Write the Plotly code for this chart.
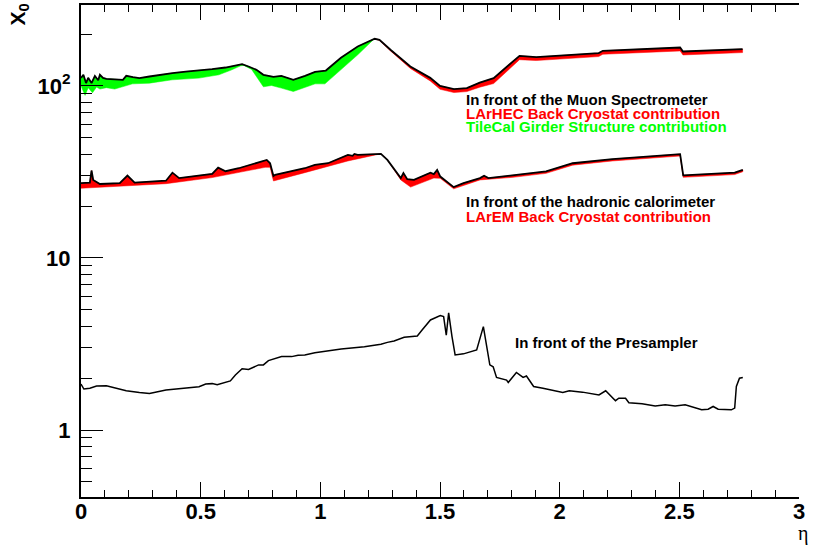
import numpy as np
import plotly.graph_objects as go

# ---- material in front of the muon spectrometer (total) ----
ms_eta = [0.000, 0.010, 0.021, 0.030, 0.044, 0.058, 0.072, 0.079, 0.092, 0.106,
          0.175, 0.189, 0.217, 0.244, 0.286, 0.327, 0.382, 0.438, 0.493, 0.548,
          0.604, 0.645, 0.673, 0.700, 0.733, 0.762, 0.804, 0.837, 0.887, 0.936,
          0.978, 1.023, 1.086, 1.156, 1.227, 1.247, 1.293, 1.376, 1.459, 1.500,
          1.558, 1.612, 1.666, 1.724, 1.778, 1.832, 1.902, 2.163, 2.180, 2.503,
          2.515, 2.764]
ms_x0 = [111.3, 116.0, 103.8, 111.3, 103.8, 114.3, 107.8, 116.0, 111.3, 109.9,
         108.4, 114.3, 112.3, 110.9, 113.3, 115.9, 118.5, 121.1, 122.7, 125.0,
         127.8, 131.2, 133.7, 129.5, 123.9, 115.9, 112.8, 114.3, 108.4, 114.3,
         120.6, 122.7, 145.5, 169.2, 187.7, 185.2, 162.0, 129.5, 111.3, 100.0,
         95.7, 97.0, 104.5, 110.9, 129.5, 149.4, 146.9, 155.0, 159.8, 167.0,
         158.3, 163.5]

# total minus TileCal girder structure
girder_eta = [0.000, 0.017, 0.030, 0.048, 0.065, 0.079, 0.106, 0.141, 0.215, 0.286,
              0.381, 0.493, 0.576, 0.630, 0.667, 0.680, 0.713, 0.762, 0.796, 0.837,
              0.887, 0.936, 0.978, 1.019, 1.086, 1.156, 1.218, 1.227]
girder_x0 = [100.0, 88.0, 97.6, 91.1, 98.4, 95.8, 97.6, 95.8, 102.7, 103.7,
             108.4, 110.9, 115.9, 123.9, 130.7, 131.5, 124.5, 98.7, 100.5, 97.0,
             92.7, 98.3, 102.7, 102.7, 123.9, 151.4, 183.4, 187.7]

# total minus LArHEC back cryostat
hec_eta = [1.227, 1.247, 1.293, 1.376, 1.459, 1.500, 1.558, 1.612, 1.666, 1.724,
           1.778, 1.832, 1.902, 2.163, 2.180, 2.503, 2.515, 2.764]
hec_x0 = [187.7, 183.3, 159.6, 126.3, 106.8, 95.5, 91.4, 92.6, 98.2, 103.1,
          121.1, 141.9, 140.3, 148.0, 152.6, 159.5, 151.2, 156.1]

# ---- material in front of the hadronic calorimeter (total) ----
had_eta = [0.000, 0.037, 0.044, 0.051, 0.079, 0.162, 0.194, 0.224, 0.355, 0.382,
           0.410, 0.548, 0.573, 0.604, 0.659, 0.755, 0.776, 0.790, 0.804, 0.811,
           0.935, 0.977, 1.032, 1.115, 1.135, 1.142, 1.156, 1.253, 1.280, 1.336,
           1.347, 1.363, 1.391, 1.460, 1.474, 1.488, 1.501, 1.557, 1.598, 1.667,
           1.684, 1.702, 1.805, 1.943, 2.054, 2.220, 2.503, 2.516, 2.731, 2.765]
had_x0 = [27.2, 27.4, 32.2, 28.4, 26.9, 27.2, 30.1, 27.4, 28.1, 31.3,
          29.1, 30.8, 33.5, 31.9, 33.2, 36.3, 37.1, 35.5, 29.9, 30.4,
          33.2, 34.7, 35.5, 39.7, 39.2, 40.2, 39.7, 40.2, 37.1, 29.1,
          31.1, 28.7, 28.4, 31.3, 30.7, 32.5, 29.7, 25.8, 27.2, 29.1,
          30.0, 29.1, 30.1, 31.8, 35.5, 37.5, 40.1, 30.2, 31.3, 32.5]

# total minus LArEM back cryostat
em_eta = [0.000, 0.355, 0.548, 0.769, 0.790, 0.804, 0.935, 1.115, 1.231, 1.253,
          1.280, 1.336, 1.377, 1.474, 1.501, 1.557, 1.598, 1.667, 1.805, 1.943,
          2.054, 2.220, 2.503, 2.516, 2.731, 2.765]
em_x0 = [25.4, 27.0, 29.3, 33.6, 33.6, 28.0, 31.3, 36.6, 39.7, 40.2,
         37.1, 28.4, 25.8, 29.1, 29.0, 25.2, 26.5, 28.4, 29.4, 31.0,
         34.6, 36.6, 39.1, 29.4, 30.5, 31.7]

# ---- material in front of the presampler ----
ps_eta = [0.000, 0.012, 0.037, 0.065, 0.106, 0.189, 0.244, 0.286, 0.355, 0.410,
          0.493, 0.521, 0.548, 0.569, 0.597, 0.624, 0.645, 0.673, 0.700, 0.721,
          0.742, 0.762, 0.783, 0.838, 0.880, 0.907, 0.935, 0.977, 1.045, 1.087,
          1.184, 1.253, 1.280, 1.308, 1.350, 1.405, 1.425, 1.460, 1.501, 1.515,
          1.526, 1.536, 1.550, 1.563, 1.598, 1.653, 1.681, 1.702, 1.708, 1.722,
          1.736, 1.778, 1.785, 1.819, 1.847, 1.861, 1.891, 1.930, 1.985, 2.013,
          2.040, 2.095, 2.164, 2.192, 2.233, 2.247, 2.275, 2.289, 2.344, 2.399,
          2.441, 2.482, 2.524, 2.565, 2.593, 2.620, 2.641, 2.662, 2.717, 2.731,
          2.738, 2.751, 2.765]
ps_x0 = [1.85, 1.73, 1.75, 1.80, 1.81, 1.69, 1.65, 1.63, 1.71, 1.74,
         1.785, 1.85, 1.86, 1.83, 1.89, 1.93, 2.09, 2.27, 2.25, 2.33,
         2.39, 2.39, 2.53, 2.67, 2.67, 2.72, 2.73, 2.81, 2.89, 2.96,
         3.05, 3.15, 3.23, 3.29, 3.46, 3.52, 3.81, 4.36, 4.62, 4.56,
         3.56, 4.80, 3.49, 2.73, 2.77, 2.92, 3.99, 2.55, 2.39, 2.33,
         2.02, 1.95, 1.89, 2.16, 2.02, 2.06, 1.79, 1.75, 1.69, 1.65,
         1.69, 1.66, 1.60, 1.69, 1.48, 1.53, 1.53, 1.44, 1.42, 1.38,
         1.40, 1.38, 1.40, 1.35, 1.31, 1.32, 1.37, 1.32, 1.31, 1.34,
         1.79, 2.00, 2.02]

x_tick_vals = [0, 0.5, 1, 1.5, 2, 2.5, 3]
x_tick_text = ["0", "0.5", "1", "1.5", "2", "2.5", "3"]
y_tick_vals = [1, 10, 100]
y_tick_text = ["1", "10", "10<sup>2</sup>"]
y_minor_vals = [0.5, 0.6, 0.7, 0.8, 0.9] + list(range(2, 10)) + list(range(20, 100, 10)) + [200]

RED = "#ff0000"
GREEN = "#00ff00"


def band(eta_tot, x0_tot, eta_low, x0_low, color):
    """Filled region between a total curve and the curve without one contribution."""
    lo, hi = min(eta_low), max(eta_low)
    top = [(e, v) for e, v in zip(eta_tot, x0_tot) if lo - 1e-9 <= e <= hi + 1e-9]
    xs = [e for e, _ in top] + list(eta_low[::-1])
    ys = [v for _, v in top] + list(x0_low[::-1])
    return go.Scatter(x=xs, y=ys, mode="lines", fill="toself", fillcolor=color,
                      line=dict(width=0.5, color=color), hoverinfo="skip",
                      showlegend=False)


fig = go.Figure()
fig.add_trace(band(ms_eta, ms_x0, girder_eta, girder_x0, GREEN))
fig.add_trace(band(ms_eta, ms_x0, hec_eta, hec_x0, RED))
fig.add_trace(band(had_eta, had_x0, em_eta, em_x0, RED))

for eta, x0, w in [(ms_eta, ms_x0, 1.8), (had_eta, had_x0, 1.8), (ps_eta, ps_x0, 1.5)]:
    fig.add_trace(go.Scatter(x=eta, y=x0, mode="lines",
                             line=dict(color="black", width=w),
                             showlegend=False))

W, H = 814, 545
ML, MR, MT, MB = 81, 0, 5, 48
plot_w = W - ML - MR
x_end = (805 - ML) / plot_w

y_lo, y_hi = np.log10(0.408), np.log10(295.0)
tick_font = dict(family="Liberation Sans", size=22, color="black", weight="bold")

fig.update_layout(
    width=W, height=H,
    margin=dict(l=ML, r=MR, t=MT, b=MB),
    paper_bgcolor="white", plot_bgcolor="white",
    showlegend=False,
    xaxis=dict(
        domain=[0, x_end], range=[0, 3],
        showgrid=False, zeroline=False,
        showline=True, linecolor="black", linewidth=2, mirror="ticks",
        ticks="inside", ticklen=15, tickwidth=1.2, tickcolor="black",
        tickvals=x_tick_vals, ticktext=x_tick_text, tickfont=tick_font,
        ticklabelstandoff=-6,
        minor=dict(ticks="inside", ticklen=7, tickwidth=1.2, tickcolor="black",
                   dtick=0.1, tick0=0, showgrid=False),
    ),
    yaxis=dict(
        type="log", range=[y_lo, y_hi],
        showgrid=False, zeroline=False,
        showline=True, linecolor="black", linewidth=2,
        ticks="inside", ticklen=22, tickwidth=1.2, tickcolor="black",
        tickvals=y_tick_vals, ticktext=y_tick_text, tickfont=tick_font,
        ticklabelstandoff=4,
        minor=dict(ticks="inside", ticklen=11, tickwidth=1.2, tickcolor="black",
                   tickvals=y_minor_vals, showgrid=False),
    ),
    yaxis2=dict(
        type="log", range=[y_lo, y_hi], overlaying="y", side="right",
        anchor="free", position=1.0,
        showgrid=False, zeroline=False, showline=False, showticklabels=False,
        ticks="inside", ticklen=22, tickwidth=1.2, tickcolor="black",
        tickvals=y_tick_vals,
        minor=dict(ticks="inside", ticklen=11, tickwidth=1.2, tickcolor="black",
                   tickvals=y_minor_vals, showgrid=False),
    ),
)

lab_font = dict(family="Liberation Sans", size=15, weight="bold")
labels = [
    ("In front of the Muon Spectrometer", 1.5995, 100, "black"),
    ("LArHEC Back Cryostat contribution", 1.5995, 113.5, RED),
    ("TileCal Girder Structure contribution", 1.5995, 127, GREEN),
    ("In front of the hadronic calorimeter", 1.5995, 201.5, "black"),
    ("LArEM Back Cryostat contribution", 1.5995, 217, RED),
    ("In front of the Presampler", 1.803, 342.5, "black"),
]
for text, ex, py, col in labels:
    fig.add_annotation(text=text, x=ex, y=(430 - py) / 172.0, xref="x", yref="y",
                       xanchor="left", yanchor="middle", showarrow=False,
                       font=dict(lab_font, color=col))

# axis titles
fig.add_annotation(text="η", xref="paper", yref="paper",
                   x=(809 - ML) / plot_w, y=(H - MB - 533) / (H - MT - MB),
                   xanchor="center", yanchor="middle", showarrow=False,
                   font=dict(family="Liberation Serif", size=20, color="black"))
fig.add_annotation(text="X<sub>0</sub>", xref="paper", yref="paper",
                   x=(18 - ML) / plot_w, y=(H - MB - 15) / (H - MT - MB),
                   xanchor="center", yanchor="middle", showarrow=False, textangle=-90,
                   font=dict(family="Liberation Sans", size=21, color="black",
                             weight="bold"))

fig.write_html("out.html")
